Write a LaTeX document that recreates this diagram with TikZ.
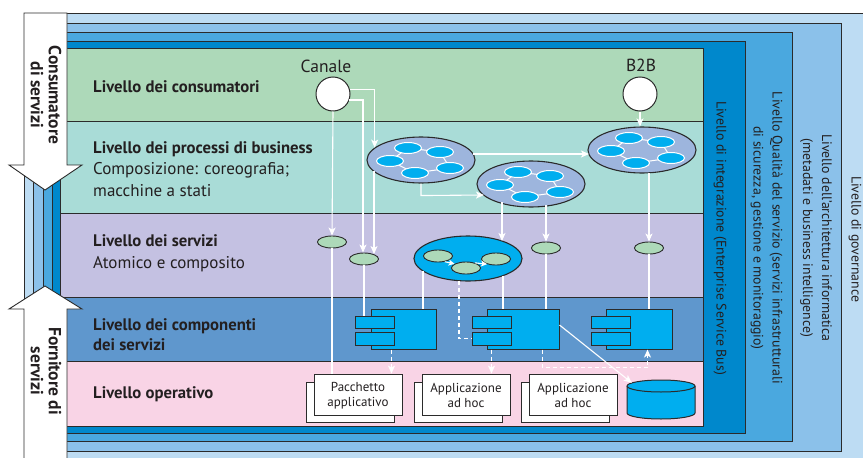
\documentclass[tikz,border=0pt]{standalone}
\usepackage{fontspec}
\setmainfont{PT Sans}
\usetikzlibrary{arrows.meta,calc,shapes.geometric,fit}

\definecolor{ink}{HTML}{231F20}
\definecolor{edge}{HTML}{2B2B2B}
\definecolor{govc}{HTML}{BDDCF3}
\definecolor{arcc}{HTML}{8BC1EA}
\definecolor{qosc}{HTML}{4AA8DF}
\definecolor{intc}{HTML}{0088CC}
\definecolor{consc}{HTML}{ADD9B9}
\definecolor{procc}{HTML}{A9DCD7}
\definecolor{servc}{HTML}{C4C1E2}
\definecolor{compc}{HTML}{5F97CD}
\definecolor{operc}{HTML}{F9D4E6}
\definecolor{cyanc}{HTML}{00AEEF}
\definecolor{procfill}{HTML}{9DB5DD}
\definecolor{svcfill}{HTML}{ADD9B9}

\begin{document}
\begin{tikzpicture}[x=1pt,y=-1pt,
  frame/.style={draw=edge, line width=0.9pt},
  layertitle/.style={anchor=base west, inner sep=0, text=ink, font=\bfseries\fontsize{16.7}{19}\selectfont},
  layersub/.style={anchor=base west, inner sep=0, text=ink, font=\fontsize{17}{19}\selectfont},
  sidelabel/.style={rotate=-90, text=ink, align=center, inner sep=0, font=\fontsize{13.8}{19}\selectfont},
  endpoint/.style={circle, draw=edge, line width=1pt, fill=white, minimum size=34pt, inner sep=0},
  process/.style={ellipse, draw=edge, line width=1.1pt, fill=procfill, minimum width=108pt, minimum height=46pt, inner sep=0},
  task/.style={ellipse, draw=white, line width=1pt, fill=cyanc, minimum width=27pt, minimum height=11pt, inner sep=0},
  service/.style={ellipse, draw=edge, line width=0.9pt, fill=svcfill, minimum width=29pt, minimum height=12pt, inner sep=0},
  compbox/.style={draw=edge, line width=1pt, fill=cyanc, inner sep=0},
  docbox/.style={draw=edge, line width=0.9pt, fill=white, inner sep=0},
  doctext/.style={align=center, text=ink, inner sep=0, font=\fontsize{13}{15}\selectfont},
  channeltext/.style={text=ink, inner sep=0, font=\fontsize{17.5}{19}\selectfont},
  wire/.style={draw=white, line width=1.1pt},
  dashwire/.style={draw=white, line width=1.1pt, dash pattern=on 4pt off 3pt},
  tip/.style={-{Stealth[length=8pt,width=7pt,inset=2pt]}},
  smalltip/.style={-{Stealth[length=6pt,width=6pt,inset=1.5pt]}},
  arrowtext/.style={rotate=-90, align=center, text=ink, inner sep=0, font=\bfseries\fontsize{17.5}{18}\selectfont}
]
\clip (0,0) rectangle (863,458);
\fill[white] (0,0) rectangle (863,458);

% nested cross-cutting layers
\draw[frame, fill=govc] (24,13) rectangle (880,470);
\draw[frame, fill=arcc] (33,23) rectangle (841,451);
\draw[frame, fill=qosc] (43,32) rectangle (792,441);
\draw[frame, fill=intc] (52,41) rectangle (745,433);

% horizontal layers
\draw[frame, fill=consc] (60,48) rectangle (703,121);
\draw[frame, fill=procc] (60,121) rectangle (703,213);
\draw[frame, fill=servc] (60,213) rectangle (703,297);
\draw[frame, fill=compc] (60,297) rectangle (703,361);
\draw[frame, fill=operc] (60,361) rectangle (703,426);

% layer titles
\node[layertitle] (tcons) at (93,92) {Livello dei consumatori};
\node[layertitle] (tproc) at (93,153) {Livello dei processi di business};
\node[layersub] (tproc2) at (93,174) {Composizione: coreografia;};
\node[layersub] (tproc3) at (93,196) {macchine a stati};
\node[layertitle] (tserv) at (93,246) {Livello dei servizi};
\node[layersub] (tserv2) at (93,268) {Atomico e composito};
\node[layertitle] (tcomp) at (93,330) {Livello dei componenti};
\node[layertitle] (tcomp2) at (93,350) {dei servizi};
\node[layertitle] (toper) at (93,398) {Livello operativo};

% vertical labels of the cross-cutting layers
\node[sidelabel] (lint) at (720,238) {Livello di integrazione (Enterprise Service Bus)};
\node[sidelabel] (lqos) at (766.5,238) {Livello Qualità del servizio (servizi infrastrutturali\\di sicurezza, gestione e monitoraggio)};
\node[sidelabel] (larc) at (816,238) {Livello dell'architettura informatica\\(metadati e business intelligence)};
\node[sidelabel] (lgov) at (855,239) {Livello di governance};

% consumer / provider arrows
\draw[frame, fill=white] (24,13) -- (67,13) -- (67,165) -- (82,165) -- (45,190) -- (9,165) -- (24,165) -- cycle;
\draw[frame, fill=white] (24,470) -- (24,309) -- (9,309) -- (45,286) -- (82,309) -- (67,309) -- (67,470);
\node[arrowtext] (acons) at (46,95) {Consumatore\\di servizi};
\node[arrowtext] (aforn) at (46,371) {Fornitore di\\servizi};

% channels
\node[endpoint] (canale) at (333,94) {};
\node[channeltext] (lcanale) at (326,66) {Canale};
\node[endpoint] (b2b) at (640,94) {};
\node[channeltext] (lb2b) at (641,65) {B2B};

% business processes with their tasks
\foreach \n/\cx/\cy in {e1/421/160, e2/531/184, e3/642/150}{
  \node[process] (\n) at (\cx,\cy) {};
  \coordinate (\n-pa) at (\cx-13,\cy-12);
  \coordinate (\n-pb) at (\cx+19,\cy-8);
  \coordinate (\n-pc) at (\cx-31,\cy+1);
  \coordinate (\n-pd) at (\cx+29,\cy+8);
  \coordinate (\n-pe) at (\cx-6,\cy+13);
  \draw[white, line width=1pt] (\n-pa) -- (\n-pb) -- (\n-pd) -- (\n-pe) -- (\n-pc) -- cycle;
  \foreach \k in {pa,pb,pc,pd,pe}{ \node[task] (\n-\k t) at (\n-\k) {}; }
}

% services
\node[service] (s1) at (332,242) {};
\node[service] (s2) at (364,259) {};
\node[service] (s3) at (546,248) {};
\node[service] (s4) at (649,248) {};
\node[ellipse, draw=edge, line width=1.1pt, fill=cyanc, minimum width=108pt, minimum height=45pt, inner sep=0] (ce) at (468,258.5) {};
\node[service] (g1) at (438,256) {};
\node[service] (g2) at (466,268) {};
\node[service] (g3) at (496,259) {};
\draw[wire, smalltip] (g1.-40) -- (g2.160);
\draw[wire, smalltip] (g2.30) -- (g3.-150);

% service components
\foreach \n/\xa/\xb/\ta/\tb in {c1/371/436/355/394, c2/487/559/472/511, c3/606/672/591/630}{
  \node[compbox, fit={(\xa,309) (\xb,349)}] (\n) {};
  \node[compbox, fit={(\ta,316) (\tb,328)}] (\n-t1) {};
  \node[compbox, fit={(\ta,332) (\tb,345)}] (\n-t2) {};
}

% operational systems
\foreach \n/\xa/\txt in {d1/314/{Pacchetto\\applicativo}, d2/422/{Applicazione\\ad hoc}, d3/529/{Applicazione\\ad hoc}}{
  \node[docbox, fit={(\xa-8,382) (\xa+80,422)}] (\n-back) {};
  \node[docbox, fit={(\xa,374) (\xa+88,415)}] (\n) {};
  \node[doctext] (\n-txt) at ($(\n.center)+(0,1)$) {\txt};
}
\node[inner sep=0, fit={(627,380) (695,419)}] (db) {};
\filldraw[draw=edge, line width=1pt, fill=cyanc] (627,386) -- (627,413)
  arc[start angle=180, end angle=360, x radius=34pt, y radius=6pt] -- (695,386)
  arc[start angle=0, end angle=180, x radius=34pt, y radius=6pt] -- cycle;
\draw[edge, line width=1pt] (627,386) arc[start angle=180, end angle=360, x radius=34pt, y radius=6pt];

% connectors
\draw[wire, tip] (canale.15) -| (e1.165);
\draw[wire, tip] (canale.-20) -| ($(s2.north)+(-1,0)$);
\draw[wire, tip] (canale.south) -- (s1.north);
\draw[wire] (s1.south) -- (s1.south |- d1.north);
\draw[wire, tip] ($(e1.center)+(-47,10.5)$) coordinate (e1o) -- ($(e1o |- s2.north)+(0,1.5)$);
\draw[wire, tip] ($(e1.center)+(52,-6)$) -- ($(e3.center)+(-53,4)$);
\draw[wire, tip] (e1.south) -- ++(0,12) -- ($(e2.center)+(-47,11)$);
\draw[wire, tip] (b2b.south) -- (b2b.south |- e3.north);
\draw[wire, tip] ($(e3.center)+(7,22.8)$) coordinate (e3o) -- (e3o |- s4.north);
\draw[wire, tip] ($(e2.center)+(-29,18.4)$) -- ($(ce.center)+(34,-17.5)$);
\draw[wire, tip] ($(e2.center)+(15,21.1)$) coordinate (e2o) -- (e2o |- s3.north);
\draw[wire] (s3.south) -- (s3.south |- c2.north);
\draw[wire] (s4.south) -- (s4.south |- c3.north);
\draw[wire] (s2.south) -- (s2.south |- c1-t1.north);
\draw[wire] ($(ce.center)+(-45,12.4)$) coordinate (ceo1) -- (ceo1 |- c1.north);
\draw[wire] ($(ce.center)+(35,17.1)$) coordinate (ceo2) -- (ceo2 |- c2.north);
\draw[dashwire] ($(ce.center)+(-9,22.2)$) |- (c2-t2.west);
\draw[dashwire, tip] ($(c1.south west)+(21,0)$) coordinate (c1o) -- (c1o |- d1.north);
\draw[dashwire, tip] ($(c2.south west)+(5,0)$) coordinate (c2o) -- (c2o |- d2.north);
\draw[dashwire, tip] ($(c2.south west)+(56,0)$) -- ++(0,18) -| ($(c3.south west)+(42,0)$);
\draw[wire, tip] ($(c2.east)+(0,-4)$) -- ($(db.north west)+(5,3)$);
\end{tikzpicture}
\end{document}
